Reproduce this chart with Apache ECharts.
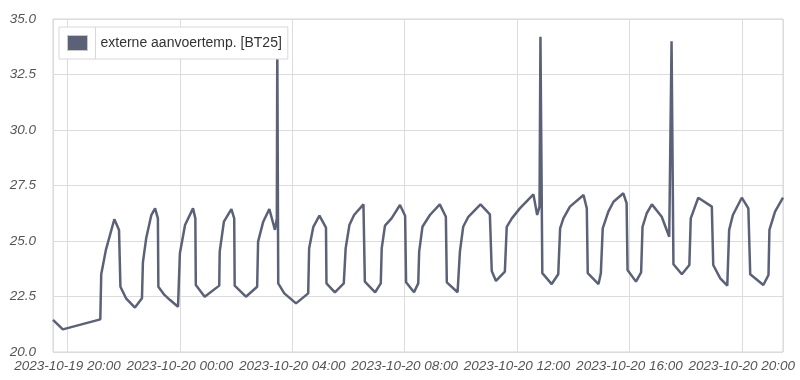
<!DOCTYPE html>
<html>
<head>
<meta charset="utf-8">
<script src="https://cdn.jsdelivr.net/npm/echarts@6/dist/echarts.min.js"></script>
<style>
html,body{margin:0;padding:0;background:#fff;}
#chart{width:800px;height:380px;}
</style>
</head>
<body>
<div id="chart"></div>
<script>
var seriesName = 'externe aanvoertemp. [BT25]';
var times = [
"2023-10-19 19:29","2023-10-19 19:50","2023-10-19 21:10","2023-10-19 21:12","2023-10-19 21:22",
"2023-10-19 21:40","2023-10-19 21:50","2023-10-19 21:53","2023-10-19 22:05","2023-10-19 22:24",
"2023-10-19 22:39","2023-10-19 22:41","2023-10-19 22:48","2023-10-19 22:59","2023-10-19 23:07",
"2023-10-19 23:13","2023-10-19 23:14","2023-10-19 23:27","2023-10-19 23:39","2023-10-19 23:56",
"2023-10-20 00:00","2023-10-20 00:11","2023-10-20 00:28","2023-10-20 00:33","2023-10-20 00:34",
"2023-10-20 00:53","2023-10-20 01:24","2023-10-20 01:25","2023-10-20 01:34","2023-10-20 01:50",
"2023-10-20 01:56","2023-10-20 01:57","2023-10-20 02:21","2023-10-20 02:45","2023-10-20 02:47",
"2023-10-20 02:58","2023-10-20 03:11","2023-10-20 03:23","2023-10-20 03:27","2023-10-20 03:28",
"2023-10-20 03:30","2023-10-20 03:43","2023-10-20 04:08","2023-10-20 04:34","2023-10-20 04:36",
"2023-10-20 04:45","2023-10-20 04:58","2023-10-20 05:12","2023-10-20 05:13","2023-10-20 05:31",
"2023-10-20 05:50","2023-10-20 05:54","2023-10-20 06:02","2023-10-20 06:12","2023-10-20 06:32",
"2023-10-20 06:35","2023-10-20 06:57","2023-10-20 07:09","2023-10-20 07:11","2023-10-20 07:18",
"2023-10-20 07:32","2023-10-20 07:50","2023-10-20 08:01","2023-10-20 08:03","2023-10-20 08:20",
"2023-10-20 08:29","2023-10-20 08:31","2023-10-20 08:38","2023-10-20 08:54","2023-10-20 09:15",
"2023-10-20 09:28","2023-10-20 09:30","2023-10-20 09:53","2023-10-20 09:58","2023-10-20 10:05",
"2023-10-20 10:16","2023-10-20 10:42","2023-10-20 11:02","2023-10-20 11:06","2023-10-20 11:15",
"2023-10-20 11:34","2023-10-20 11:38","2023-10-20 11:49","2023-10-20 12:06","2023-10-20 12:35",
"2023-10-20 12:43","2023-10-20 12:48","2023-10-20 12:50","2023-10-20 12:54","2023-10-20 13:14",
"2023-10-20 13:28","2023-10-20 13:32","2023-10-20 13:39","2023-10-20 13:53","2023-10-20 14:22",
"2023-10-20 14:29","2023-10-20 14:31","2023-10-20 14:54","2023-10-20 14:59","2023-10-20 15:03",
"2023-10-20 15:15","2023-10-20 15:26","2023-10-20 15:47","2023-10-20 15:54","2023-10-20 15:56",
"2023-10-20 16:14","2023-10-20 16:25","2023-10-20 16:28","2023-10-20 16:37","2023-10-20 16:48",
"2023-10-20 17:09","2023-10-20 17:25","2023-10-20 17:30","2023-10-20 17:34","2023-10-20 17:52",
"2023-10-20 18:08","2023-10-20 18:11","2023-10-20 18:27","2023-10-20 18:56","2023-10-20 18:59",
"2023-10-20 19:14","2023-10-20 19:29","2023-10-20 19:33","2023-10-20 19:41","2023-10-20 20:00",
"2023-10-20 20:14","2023-10-20 20:18","2023-10-20 20:46","2023-10-20 20:57","2023-10-20 20:59",
"2023-10-20 21:11","2023-10-20 21:28"
];
var values = [
21.45,21.02,21.47,23.5,24.6,
25.98,25.5,22.94,22.42,22.0,
22.42,24.04,25.12,26.17,26.47,
26.02,22.94,22.57,22.34,22.04,
24.45,25.72,26.47,26.02,23.02,
22.49,22.99,24.52,25.87,26.44,
26.02,22.99,22.49,22.94,24.97,
25.87,26.44,25.5,26.02,34.0,
23.09,22.64,22.19,22.64,24.67,
25.64,26.14,25.6,23.09,22.69,
23.09,24.67,25.72,26.17,26.65,
23.17,22.69,23.09,24.67,25.69,
26.02,26.62,26.14,23.14,22.69,
23.09,24.52,25.64,26.17,26.65,
26.09,23.14,22.69,24.52,25.64,
26.09,26.65,26.2,23.65,23.2,
23.62,25.64,26.02,26.47,27.1,
26.17,26.55,34.2,23.55,23.06,
23.5,25.57,26.02,26.55,27.07,
26.47,23.55,23.06,23.55,25.57,
26.32,26.77,27.15,26.7,23.69,
23.17,23.59,25.64,26.25,26.65,
26.09,25.19,34.0,23.95,23.5,
23.92,26.02,26.95,26.55,23.92,
23.32,22.99,25.5,26.17,26.95,
26.47,23.5,23.02,23.47,25.5,
26.32,26.95
];
var yTicks = [20.0, 22.5, 25.0, 27.5, 30.0, 32.5, 35.0];

var data = times.map(function(t, i){ return [t, values[i]]; });
var lineColor = '#5b6277';
var chart = echarts.init(document.getElementById('chart'), null, {renderer:'canvas'});
chart.setOption({
  animation: false,
  backgroundColor: '#fff',
  grid: {left: 53, right: 17, top: 19, bottom: 28, show: true, borderColor: '#d4d4d4', borderWidth: 1},
  legend: {
    show: true, left: 59, top: 27,
    padding: [8, 6, 8, 8],
    backgroundColor: '#fff', borderColor: '#d8d8d8', borderWidth: 1,
    icon: 'rect', itemWidth: 20, itemHeight: 15,
    itemStyle: {borderColor: '#c8c8c8', borderWidth: 1},
    textStyle: {fontFamily: 'Liberation Sans', fontSize: 14, color: '#333', padding: [0,0,0,8]},
    data: [seriesName]
  },
  graphic: [{
    type: 'line', z: 100,
    shape: {x1: 95.5, y1: 27, x2: 95.5, y2: 59},
    style: {stroke: '#d8d8d8', lineWidth: 1}
  }],
  xAxis: {
    type: 'time', min: 'dataMin', max: 'dataMax',
    minInterval: 4*3600*1000, maxInterval: 4*3600*1000,
    axisLine: {show: false}, axisTick: {show: false},
    splitLine: {show: true, lineStyle: {color: '#dcdcdc', width: 1}},
    axisLabel: {
      showMinLabel: false, showMaxLabel: false, hideOverlap: false,
      fontFamily: 'Liberation Sans', fontSize: 13.5, fontStyle: 'italic', color: '#555', margin: 7,
      formatter: function(v){ return echarts.time.format(v, '{yyyy}-{MM}-{dd} {HH}:{mm}', false); }
    }
  },
  yAxis: {
    type: 'value', min: yTicks[0], max: yTicks[yTicks.length-1], interval: 2.5,
    axisLine: {show: false}, axisTick: {show: false},
    splitLine: {show: true, lineStyle: {color: '#dcdcdc', width: 1}},
    axisLabel: {
      fontFamily: 'Liberation Sans', fontSize: 13.5, fontStyle: 'italic', color: '#555', margin: 17,
      formatter: function(v){ return v.toFixed(1); }
    }
  },
  series: [{
    name: seriesName, type: 'line', data: data,
    showSymbol: false, symbol: 'none',
    color: lineColor,
    lineStyle: {color: lineColor, width: 2.5},
    z: 2
  }]
});
</script>
</body>
</html>
